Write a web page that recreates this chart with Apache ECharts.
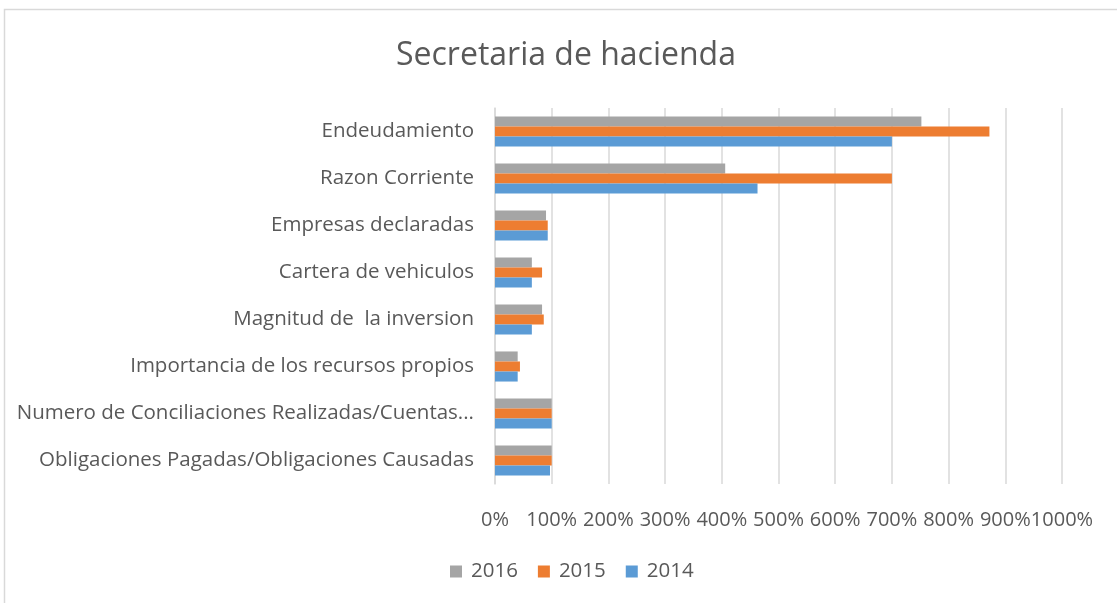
<!DOCTYPE html>
<html><head><meta charset="utf-8">
<script src="https://cdn.jsdelivr.net/npm/echarts@6/dist/echarts.min.js"></script>
<style>html,body{margin:0;padding:0;background:#fff}#c{width:1117px;height:603px}</style>
</head><body><div id="c"></div>
<script>
const categories = [
  "Obligaciones Pagadas/Obligaciones Causadas",
  "Numero de Conciliaciones Realizadas/Cuentas...",
  "Importancia de los recursos propios",
  "Magnitud de  la inversion",
  "Cartera de vehiculos",
  "Empresas declaradas",
  "Razon Corriente",
  "Endeudamiento"
];
const s2014 = [97, 100, 40, 65, 65, 93, 463, 700];
const s2015 = [100, 100, 44, 86, 83, 93, 700, 872];
const s2016 = [100, 100, 40, 83, 65, 90, 406, 752];
const xTicks = [0, 100, 200, 300, 400, 500, 600, 700, 800, 900, 1000];

const font = "Open Sans";
const txt = "#595959";
const chart = echarts.init(document.getElementById('c'));
chart.setOption({
  animation: false,
  textStyle: {fontFamily: font},
  graphic: [{type:'rect', shape:{x:4.5,y:9.5,width:1200,height:700}, style:{fill:'none', stroke:'#d9d9d9', lineWidth:1.5}, silent:true}],
  title: {text: "Secretaria de hacienda", left: 391, top: 35,
    textStyle: {fontFamily: font, fontSize: 32, fontWeight: 'normal', color: txt}},
  legend: {data: ['2016','2015','2014'], top: 556, left: 445, itemWidth: 12, itemHeight: 12, itemGap: 20,
    icon: 'rect', textStyle: {fontFamily: font, fontSize: 20.5, color: txt, padding: [0, 0, 0, 4]}},
  grid: {left: 495, right: 55, top: 108, bottom: 119, containLabel: false},
  xAxis: {type: 'value', min: 0, max: 1000, interval: 100,
    axisLabel: {formatter: v => v + '%', fontSize: 20, color: txt, margin: 26, fontFamily: font, hideOverlap: false},
    axisLine: {show: false}, axisTick: {show: false},
    splitLine: {lineStyle: {color: '#d9d9d9', width: 1.5}}},
  yAxis: {type: 'category', data: categories,
    axisLine: {lineStyle: {color: '#d9d9d9', width: 1.5}}, axisTick: {show: false},
    axisLabel: {fontSize: 20.5, color: txt, margin: 21, fontFamily: font}},
  series: [
    {name: '2016', type: 'bar', data: s2016, itemStyle: {color: '#a5a5a5'}, barGap: '0%', barCategoryGap: '36%'},
    {name: '2015', type: 'bar', data: s2015, itemStyle: {color: '#ed7d31'}, barGap: '0%', barCategoryGap: '36%'},
    {name: '2014', type: 'bar', data: s2014, itemStyle: {color: '#5b9bd5'}, barGap: '0%', barCategoryGap: '36%'}
  ]
});
</script></body></html>
